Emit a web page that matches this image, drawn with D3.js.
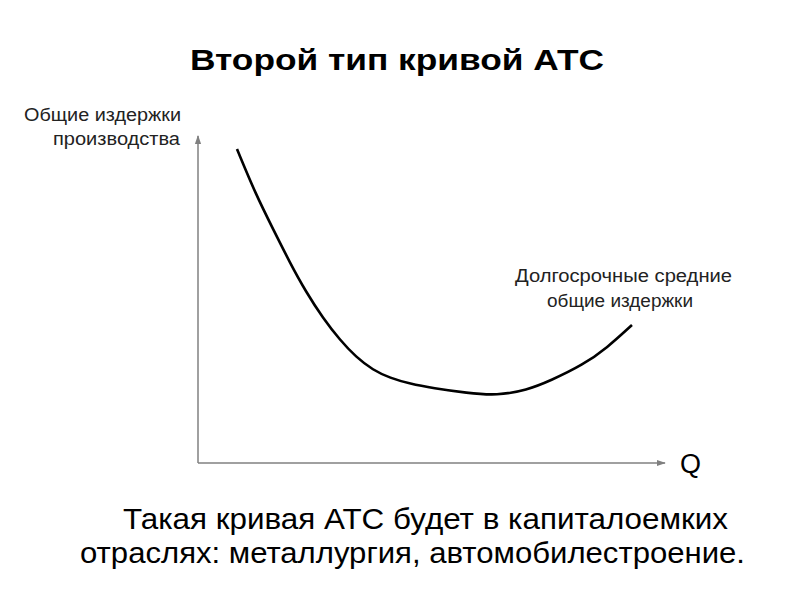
<!DOCTYPE html>
<html><head><meta charset="utf-8">
<script src="https://cdn.jsdelivr.net/npm/d3@7"></script>
<style>body{margin:0;background:#fff}svg{display:block}</style>
</head><body>
<svg id="c" width="800" height="600"></svg>
<script>
const title = "Второй тип кривой АТС";
const yLabel = ["Общие издержки", "производства"];
const xLabel = "Q";
const curveLabel = ["Долгосрочные средние", "общие издержки"];
const caption = ["Такая кривая АТС будет в капиталоемких", "отраслях: металлургия, автомобилестроение."];
const qValues = [0.835, 1.242, 1.606, 1.970, 2.313, 2.677, 3.041, 3.383, 3.747, 4.111, 4.540, 5.032, 5.760, 6.403, 7.045, 7.537, 8.244, 8.758, 9.293];
const atcValues = [9.60, 8.20, 7.16, 6.12, 5.23, 4.43, 3.76, 3.24, 2.84, 2.60, 2.42, 2.29, 2.14, 2.06, 2.23, 2.51, 3.00, 3.52, 4.22];

const svg = d3.select("#c");
const font = "'Liberation Sans', Arial, sans-serif";
const x = d3.scaleLinear().domain([0, 10]).range([198, 665]);
const y = d3.scaleLinear().domain([0, 10]).range([463, 136]);

const defs = svg.append("defs");
defs.append("marker").attr("id","arr").attr("viewBox","0 0 10 10").attr("refX",9).attr("refY",5)
  .attr("markerWidth",6).attr("markerHeight",6).attr("orient","auto-start-reverse")
  .append("path").attr("d","M0,1.5 L10,5 L0,8.5 Z").attr("fill","#808080");

svg.append("text").attr("x",190).attr("y",70)
  .attr("textLength",414).attr("lengthAdjust","spacingAndGlyphs")
  .attr("font-family",font).attr("font-weight","bold").attr("font-size",29).attr("fill","#000").text(title);

// axes
svg.append("line").attr("x1",x(0)).attr("y1",y(0)).attr("x2",x(0)).attr("y2",y(10))
  .attr("stroke","#808080").attr("stroke-width",1.5).attr("marker-end","url(#arr)");
svg.append("line").attr("x1",x(0)).attr("y1",y(0)).attr("x2",x(10)).attr("y2",y(0))
  .attr("stroke","#808080").attr("stroke-width",1.5).attr("marker-end","url(#arr)");

const yLabX = [24, 53], yLabW = [157, 127];
svg.append("g").selectAll("text").data(yLabel).join("text")
  .attr("x",(d,i)=>yLabX[i]).attr("y",(d,i)=>121+i*24)
  .attr("textLength",(d,i)=>yLabW[i]).attr("lengthAdjust","spacingAndGlyphs")
  .attr("font-family",font).attr("font-size",17.5).attr("fill","#222").text(d=>d);

svg.append("text").attr("x",680).attr("y",473).attr("font-family",font).attr("font-size",27).attr("fill","#000").text(xLabel);

const line = d3.line().x((d,i)=>x(qValues[i])).y(d=>y(d)).curve(d3.curveBasis);
svg.append("path").datum(atcValues).attr("d",line).attr("fill","none").attr("stroke","#000").attr("stroke-width",2.6);

const clX = [515, 547], clW = [217, 146];
svg.append("g").selectAll("text").data(curveLabel).join("text")
  .attr("x",(d,i)=>clX[i]).attr("y",(d,i)=>282+i*25)
  .attr("textLength",(d,i)=>clW[i]).attr("lengthAdjust","spacingAndGlyphs")
  .attr("font-family",font).attr("font-size",17.5).attr("fill","#222").text(d=>d);

const capX = [123, 80], capW = [605, 665];
svg.append("g").selectAll("text").data(caption).join("text")
  .attr("x",(d,i)=>capX[i]).attr("y",(d,i)=>529+i*34)
  .attr("textLength",(d,i)=>capW[i]).attr("lengthAdjust","spacingAndGlyphs")
  .attr("font-family",font).attr("font-size",29).attr("fill","#000").text(d=>d);
</script>
</body></html>
